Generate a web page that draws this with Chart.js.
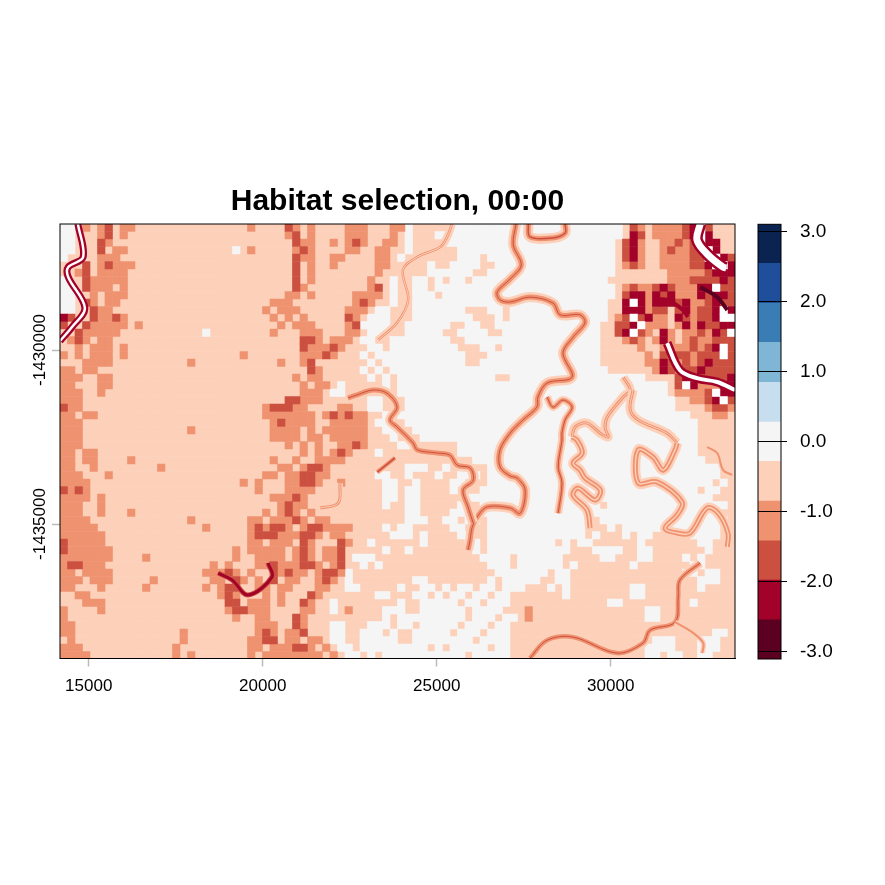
<!DOCTYPE html>
<html>
<head>
<meta charset="utf-8">
<title>Habitat selection, 00:00</title>
<script src="https://cdn.jsdelivr.net/npm/chart.js@4"></script>
<style>
  html, body { margin: 0; background: #fff; width: 885px; height: 885px; overflow: hidden; }
  canvas { position: absolute; top: 0; }
  #map { left: 0; }
  #scale { left: 745px; }
</style>
</head>
<body>
<canvas id="map" width="795" height="885"></canvas>
<canvas id="scale" width="140" height="885"></canvas>
<script>
const titleText = 'Habitat selection, 00:00';
const xRange = [14175, 33572];
const yRange = [-1438865, -1426379];
const xTickValues = [15000, 20000, 25000, 30000];
const yTickValues = [-1435000, -1430000];

const legendBreaks = [-3.11, -2.55, -1.98, -1.42, -0.85, -0.28, 0.28, 0.85, 1.42, 1.98, 2.55, 3.11];
const legendColors = ['#5B0020', '#A2022A', '#CC5040', '#EF9270', '#FDD0BA', '#F5F5F5', '#C6DEED', '#7FB5D5', '#3A7DB4', '#1F4E9A', '#0B2350'];
const legendTicks = [-3, -2, -1, 0, 1, 2, 3];

// one letter per raster cell, 215.5 map units square, top row first
const cellSize = 215.5;
const cellClasses = { '-': '#FDD0BA', o: '#F5F5F5', s: '#EF9270', r: '#CC5040', d: '#A2022A', k: '#5B0020', x: '#FFFFFF' };
const cellRows = [
  'oo-s-sr-ss ---------- -----s---- rs-s----ss s---sso--- --oooooooo oooooooooo ooooo-rs-s sssrdxr---',
  'oo---sr-s- ---------- ---------- sr-s----ss s---s-o--- oooooooooo oooooooooo ooooo-dr-s sssrdxd---',
  'oo---rs--- ---------- ---------- -rss--s-sr s--ss-o--- -ooooooooo oooooooooo oooo-rds-- ssrsrxdd--',
  'oo---r-ss- ---------- ---o-s---- -srs----ss --ss--o--- ---ooooooo oooooooooo oooo-rds-- srssrrxd--',
  'o----sss-- ---------- ---------- -rss--ss-- --ss-o---- ---ooo-ooo oooooooooo oooo-rds-- ssssrrxxdr',
  '---r-srsss ---------- ---------- -r-s--s--- --ss-----o --oooo--oo oooooooooo oooo-srs-- ssssrrdxxd',
  '--sr-ssss- ---------- ---------- -r-s------ --s------o ooooo--ooo oooooooooo oooo------ -sssssrddd',
  'o--rsssss- ---------- ---------- -r-s------ -s--o--oo- o-oo-ooooo oooooooooo ooo------- -sssrrrrdr',
  'oo-rsss-s- ---------- ---------- -rs------- -sr-o--oo- oooooooooo oooooooooo oooo-srssr drsssddxrr',
  'oo--s-sss- ---------- ---------- ss-s-----s sss-o--ooo -ooooooooo oooooooooo oooo-rddsd rdsssdrddr',
  'oo-rs-ss-- ---------- --------ss s--------s rs--o--ooo oooooooooo oooooooooo ooo--dxdsd ddrdssrdrr',
  'oo--rss--- ---------- -------s-s ss------ss s-oo---ooo oooo---oo- oooooooooo ooo--dddsr r-rdsrrdxd',
  'dr--rssrs- ---------- --------s- s-s-----rs -ooo---ooo ooooo---o- oooooooooo ooo-srxrds s-drsrrdxx',
  'r--rsssss- s--------- ---------s -sss----sr oooo--oooo oo--oo--oo oooooooooo oo--rrdxss s-sdsdrrdd',
  '--rsssss-- ---------o --------s- --sss---ss -ooo--oooo o--oooo--o oooooooooo oo--rdxrs- ds-ssrsdrx',
  '-srs-ss--- ---------- ---------- --rrs-sss- oo--oooooo oo--oooooo oooooooooo oo---srs-s ds-srssrrr',
  '--s-sss-s- ---------- ---------- --rsssrs-- -oo-oooooo ooo---oo-o oooooooooo oo-----s-- ssssrsrdxr',
  's-s-sss-s- ---------- ----s----- --sssrs--- o-oooooooo oooo---ooo oooooooooo oo------s- rsrrsrrrxr',
  '---ssss--- -------s-- ---------s --sr------ -o-ooooooo oooo--oooo oooooooooo oo------ss drsrsrdrrr',
  'ss-ss----- ---------- ---------- ---rs----- o-o-oooooo oooooooooo oooooooooo ooo------s drsrrdrrrr',
  'sss--ss--- ---------- ---------- -s-ss----- -o-o-ooooo oooooooo-- oooooooooo oooooooo-- --rdrrrrrd',
  'ss---ss--- ---------- ---------- --s-ss-o-- ---o-ooooo oooooooooo oooooooooo oooooooooo o-rxdsssdd',
  'sss--s---- ---------- ---------- --sss-oo-- -----ooooo oooooooooo oooooooooo oooooooooo o-ssssrxdd',
  'sss------- ---------- ---------- rrsss----- -oo---oooo oooooooooo oooooooooo oooooooooo oo--ssrdxr',
  'rss------- ---------- -------srr rss----ss- -oo---oooo oooooooooo oooooooooo oooooooooo oo----srrs',
  'ss-ss----- ---------- -------sss ssss-srsrs s--o-ooooo oooooooooo oooooooooo oooooooooo oooo---ss-',
  'sss------- ---------- --------sr ssss--ssss s-oo--oooo oooooooooo oooooooooo oooooooooo ooooo-----',
  'sss------- -------s-- --------ss ss-s-sssss s--oo--ooo oooooooooo oooooooooo oooooooooo ooooo-----',
  'sss------- ---------- --------ss ss-ss-ssss s---o---oo oooooooooo oooooooooo oooooooooo ooooo-----',
  'sss------- ---------- ---------- s-s-s--ssr s----oo--- ---ooooooo oooooooooo oooooooooo ooooo-----',
  'ss-ss----- ---------- ---------- --s-s-srs- --o------- ---ooooooo oooooooooo oooooooooo ooooo-----',
  'ss-ss----s ---------- --------s- -s--ssss-- ---------- -----ooooo oooooooooo oooooooooo oooooo----',
  'ss--s----- ---s------ ---------s s-srrs---- ------ooo- -o-----ooo oooooooooo oooooooooo oooooooo--',
  'sss---s--- ---------- -------ss- ssrrss---- --oo--o--- o--ooo-ooo oooooooooo oooooooooo oooooooo--',
  'ssss------ ---------- ----s-s--- ssrrs--s-- ---oo--o-- --oo---ooo oooooooooo oooooooooo ooooooo-o-',
  'rsrs------ ---------- ------s--- ssss------ ---oo-oo-- --o---oooo oooooooooo oooooooooo ooooo-oo--',
  'ssss-s---- ---------- --------ss srs------- ---oo-oo-- ----oooooo oooooooooo oooooooooo ooooooo---',
  'sss--s---- ---------- ---------s rss------- ---o--oo-- ---o--oooo oooooooooo oo-ooooooo ooooooooo-',
  'sss--s---s ---------- -------s-s rs-s------ ------oo-- --oo--oooo oooooooooo oooooooooo oooooooo--',
  'ssss------ -------s-- -----ss-ss srs-ss---- ------ooo- -oo-oo-ooo oooooooooo o-oooooooo ooooooooo-',
  'sssss----- ---------s -----srsrr s-srrssss- ---o-oo--- --oo---ooo oooooooooo ---o-ooooo oooooooo--',
  'ssssss---- ---------- -----srrrs ssrrs-ss-- ----ooo-o- ---oo--ooo oooooooooo -o---o-oo- ----oooo--',
  'rsssss---- ---------- -----ss-ss s-rs---rs- -o------o- ----oo-ooo oooooo-o-o o------o-- -----oo---',
  'rssssss--- ---------- ---s-sssss -srs-ssr-- ---o--o--- -----o-ooo oooooooo-- -oooo--oo- ------o---',
  'sssssss--- -s-------- ---s--ssss -srs-ssr-o oo-------- ------oooo -oooooo--- --oo---oo- ---o-o----',
  'srrsss---- ---------- s-s---ssrs ssrrs-sr-- o-o------- -------ooo -oooooo-o- ------o--- ----oo----',
  'ss-ssss--- ---------s ssrs-s--rs rss-srrso- ---------- --------oo ooooo-oo-- ---------- ---oo-oo--',
  'sss-sss--- --s------- ss-rs-s-r- ss--srs-o- -------oo- -------o-o oooo--oo-- ---------- -----ooo--',
  'ss---s---- -s-------s -srr--ss-s s---ss--oo -----o--oo -o-oo-oo-o oo---o-o-- ------oo-- -----o----',
  '--ss------ ---------- -srs---s-s ---rs----- --oo---oo- o-oo-oo-oo -------o-- ------oo-- ----------',
  '---sss---- ---------- --rr-sss-s --rs--o--- -----o--oo ooo-oo-ooo ---------- ---oo----- ----o-----',
  's----s---- ---------- --srrsss-- --ss--o-s- ---ooo--oo oooo-oooo- --s------- --------oo ----------',
  's--------- ---------- ---s--ss-- -rs------- ---o-ooooo oooo-ooo-o o-s------- --------oo ----------',
  'ss-------- ---------- ------sss- -rs---oo-- -ooo-oo-oo ooo-ooo-oo ---------- ---------- ----------',
  'ss-------- ------s--- ------srs- ssr---oo-- ooo-o--ooo oo-ooo-ooo ---------- ---------- -------oo-',
  '-s-------- ------s--- -----ssrr- ss-ss-oo-- ooooo--ooo ooooo-oooo ---------- ---------o oo---ooo--',
  'sss------- -----s---- -----ss-ss srrs-s-oo- ooooooooo- o-ooooo-oo ---------- --------oo oo---ooo--',
  'ssss------ -----s-s-- -----s-sss sssss-s-oo -o-ooooooo oooo-ooooo ---------- --------oo -oo--oo---'
];

// river centre lines, map coordinates
const riverA = [[27280,-1426380],[27200,-1426980],[27430,-1427560],[27110,-1427960],[26740,-1428330],[26820,-1428560],[27110,-1428620],[27680,-1428480],[28340,-1428650],[28550,-1428990],[29120,-1428990],[29260,-1429220],[28920,-1429630],[28630,-1430090],[28890,-1430780],[28170,-1430950],[27910,-1431350],[27880,-1431640],[27480,-1432010],[27110,-1432390],[26820,-1432870],[26820,-1433360],[27110,-1433620],[27310,-1433680],[27540,-1434020],[27400,-1434690],[27110,-1434540],[26450,-1434510],[26160,-1434800],[26020,-1435090],[25960,-1435460],[25900,-1435750]];
const riverB = [[22450,-1431380],[22710,-1431290],[23170,-1431150],[23570,-1431240],[23860,-1431640],[23660,-1432010],[23860,-1432210],[24320,-1432670],[24440,-1432870],[25010,-1432960],[25380,-1433020],[25590,-1433310],[25960,-1433390],[26050,-1433740],[25760,-1434020],[25900,-1434510],[26050,-1434970]];
const riverC = [[28170,-1431350],[28340,-1431640],[28630,-1431440],[28890,-1431640],[28690,-1432010],[28600,-1432390],[28600,-1432590],[28490,-1433360],[28600,-1433820],[28490,-1434690]];
const riverPaleD = [[30360,-1430780],[30560,-1431150],[30360,-1431350],[29900,-1431930],[29840,-1432240],[29930,-1432500],[29700,-1432390],[29320,-1432100],[28980,-1432210],[28890,-1432500]];
const riverD = [[28890,-1432500],[29030,-1432590],[29180,-1432960],[28920,-1433250],[29120,-1433450],[29260,-1433680],[29700,-1434020],[29550,-1434310],[29060,-1433970],[28920,-1434170],[29320,-1434600],[29410,-1435120]];
const riverPaleE = [[30640,-1431150],[30560,-1431720],[30790,-1432010],[31620,-1432390],[31910,-1432670]];
const riverE = [[31910,-1432670],[31850,-1432870],[31510,-1433450],[31220,-1433080],[30790,-1432870],[30790,-1433820],[31330,-1433790],[32050,-1434370],[31910,-1434740],[31560,-1435120],[31910,-1435260],[32280,-1435260],[32770,-1434540],[33090,-1434690],[33370,-1435260],[33350,-1435660]];
const riverF = [[27630,-1426380],[27680,-1426750],[28340,-1426780],[28690,-1426640],[28690,-1426380]];
const riverG = [[27680,-1438850],[28170,-1438340],[28920,-1438250],[30180,-1438710],[30930,-1438420],[31130,-1438050],[31850,-1437820],[31940,-1437100],[31990,-1436610],[32570,-1436120]];
const riverH = [[31850,-1437820],[32370,-1438130],[32660,-1438420],[32630,-1438710]];
const riverI = [[25440,-1426380],[25300,-1426750],[25100,-1427040],[24440,-1427330],[24030,-1427700],[24180,-1428560],[23860,-1429220],[23320,-1429710]];
const riverJ = [[32770,-1432790],[33060,-1432960],[33230,-1433450],[33490,-1433590]];
const riverK = [[23290,-1433510],[23800,-1433100]];
const riverL = [[22220,-1433820],[22170,-1434400],[21650,-1434540]];
const darkRiver = [[14690,-1426380],[14840,-1427330],[14410,-1427620],[14410,-1427900],[14890,-1428790],[14520,-1429340],[14175,-1429740]];
const darkRing = [[18720,-1436410],[19120,-1436610],[19580,-1437040],[20270,-1436520],[20150,-1436120]];
const ridgeA = [[31220,-1428560],[31620,-1428560],[32080,-1428850],[32220,-1429050]];
const ridgeB = [[32570,-1428190],[33060,-1428480],[33350,-1428850]];
const lakeNorth = [[32570,-1426380],[32480,-1426840],[32800,-1427270],[33230,-1427620],[33320,-1427640]];
const lakeSouth = [[31620,-1429800],[31990,-1430580],[32480,-1430810],[33060,-1430920],[33575,-1431150]];

const colours = cellClasses;
let drawOrder = 5000;

function lineLayer(path, width, color) {
  return {
    data: path.map(p => ({ x: p[0], y: p[1] })),
    showLine: true,
    borderColor: color,
    borderWidth: width,
    pointRadius: 0,
    tension: 0.35,
    clip: 0,
    order: drawOrder--
  };
}

function riverLayers(path, halo, band, core, coreColor) {
  return [
    lineLayer(path, halo, colours['-']),
    lineLayer(path, band, colours.s),
    lineLayer(path, core, coreColor)
  ];
}

function cellLayers() {
  const points = {};
  Object.keys(cellClasses).forEach(k => { points[k] = []; });
  cellRows.forEach((row, r) => {
    row.replace(/ /g, '').split('').forEach((k, c) => {
      points[k].push({
        x: xRange[0] + (c + 0.5) * cellSize,
        y: yRange[1] - (r + 0.5) * cellSize
      });
    });
  });
  return Object.keys(points).map(k => ({
    data: points[k],
    pointStyle: 'rect',
    pointRadius: 5.75,
    pointBorderWidth: 0,
    backgroundColor: cellClasses[k],
    showLine: false,
    clip: 0,
    order: drawOrder--
  }));
}

const mapDatasets = [
  ...cellLayers(),
  ...riverLayers(riverI, 8, 2.5, 1, colours['-']),
  ...riverLayers(riverA, 10, 5, 1, colours.r),
  ...riverLayers(riverB, 10, 5, 1, colours.r),
  ...riverLayers(riverC, 8, 4, 1, colours.r),
  ...riverLayers(riverPaleD, 9, 3, 1, colours['-']),
  ...riverLayers(riverD, 10, 5, 1.4, colours['-']),
  ...riverLayers(riverPaleE, 9, 3, 1, colours['-']),
  ...riverLayers(riverE, 10, 5, 1.4, colours['-']),
  ...riverLayers(riverF, 10, 5, 1.4, colours.r),
  ...riverLayers(riverG, 9, 4.5, 1, colours.r),
  ...riverLayers(riverH, 5, 2, 0.6, colours.s),
  ...riverLayers(riverJ, 5, 2, 0.6, colours.s),
  ...riverLayers(riverK, 6, 4, 1.6, colours.r),
  ...riverLayers(riverL, 6, 3, 1, colours['-']),
  lineLayer(darkRiver, 7, colours.d),
  lineLayer(darkRiver, 2.5, colours.x),
  lineLayer(darkRing, 5, colours.r),
  lineLayer(darkRing, 3, colours.d),
  lineLayer(ridgeA, 4, colours.d),
  lineLayer(ridgeB, 4, colours.k),
  lineLayer(lakeNorth, 12, colours.d),
  lineLayer(lakeNorth, 7, colours.x),
  lineLayer(lakeSouth, 9, colours.d),
  lineLayer(lakeSouth, 4, colours.x)
];

const boxPlugin = {
  id: 'box',
  afterDraw(chart) {
    const a = chart.chartArea;
    const ctx = chart.ctx;
    ctx.save();
    ctx.strokeStyle = '#000';
    ctx.lineWidth = 1;
    ctx.strokeRect(a.left, a.top, a.right - a.left, a.bottom - a.top);
    ctx.restore();
  }
};

new Chart(document.getElementById('map'), {
  type: 'scatter',
  data: { datasets: mapDatasets },
  plugins: [boxPlugin],
  options: {
    responsive: false,
    animation: false,
    events: [],
    layout: { padding: { left: 0, right: 60, top: 0, bottom: 0 } },
    plugins: {
      legend: { display: false },
      tooltip: { enabled: false },
      title: {
        display: true,
        fullSize: false,
        text: titleText,
        color: '#000',
        font: { family: '"Liberation Sans", Arial, sans-serif', size: 30, weight: 'bold' },
        padding: { top: 183.4, bottom: 4.6 }
      }
    },
    scales: {
      x: {
        type: 'linear',
        min: xRange[0],
        max: xRange[1],
        afterBuildTicks: axis => { axis.ticks = xTickValues.map(v => ({ value: v })); },
        afterFit: axis => { axis.height = 226.5; },
        grid: { drawOnChartArea: false, tickLength: 8, tickColor: '#bbb', tickWidth: 1.5 },
        border: { color: '#000' },
        ticks: {
          color: '#000',
          padding: 10,
          maxRotation: 0,
          autoSkip: false,
          font: { family: '"Liberation Sans", Arial, sans-serif', size: 17 },
          callback: v => String(v)
        }
      },
      y: {
        type: 'linear',
        min: yRange[0],
        max: yRange[1],
        afterBuildTicks: axis => { axis.ticks = yTickValues.map(v => ({ value: v })); },
        afterFit: axis => { axis.width = 60; },
        grid: { drawOnChartArea: false, tickLength: 8, tickColor: '#bbb', tickWidth: 1.5 },
        border: { color: '#000' },
        ticks: {
          color: '#000',
          padding: -24,
          minRotation: 90,
          maxRotation: 90,
          crossAlign: 'center',
          autoSkip: false,
          font: { family: '"Liberation Sans", Arial, sans-serif', size: 17 },
          callback: v => String(v)
        }
      }
    }
  }
});

new Chart(document.getElementById('scale'), {
  type: 'bar',
  data: {
    labels: [''],
    datasets: legendColors.map((c, i) => ({
      data: [[legendBreaks[i], legendBreaks[i + 1]]],
      backgroundColor: c,
      grouped: false,
      barPercentage: 1,
      categoryPercentage: 1
    }))
  },
  plugins: [boxPlugin],
  options: {
    responsive: false,
    animation: false,
    events: [],
    layout: { padding: { left: 13, right: 0, top: 224.3, bottom: 226 } },
    plugins: { legend: { display: false }, tooltip: { enabled: false } },
    scales: {
      x: { display: false, grid: { display: false }, border: { display: false } },
      y: {
        position: 'right',
        min: legendBreaks[0],
        max: legendBreaks[legendBreaks.length - 1],
        afterBuildTicks: axis => { axis.ticks = legendTicks.map(v => ({ value: v })); },
        afterFit: axis => { axis.width = 104; },
        grid: { color: '#000', lineWidth: 1, tickLength: 6, z: 1 },
        border: { display: false },
        ticks: {
          color: '#000',
          padding: 13,
          autoSkip: false,
          font: { family: '"Liberation Sans", Arial, sans-serif', size: 19 },
          callback: v => v.toFixed(1)
        }
      }
    }
  }
});
</script>
</body>
</html>
